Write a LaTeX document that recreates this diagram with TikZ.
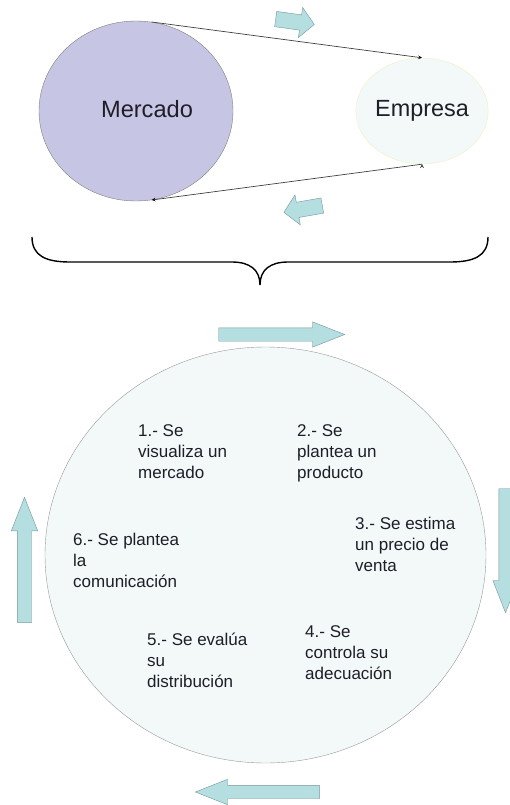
\documentclass[tikz,border=0pt]{standalone}
\usepackage{fontspec}
\setmainfont{Liberation Sans}
\usepackage{xcolor}
\usetikzlibrary{positioning,shapes.geometric,shapes.arrows}

\definecolor{lavanda}{RGB}{198,198,228}
\definecolor{celeste}{RGB}{243,249,249}
\definecolor{crema}{RGB}{240,240,190}
\definecolor{aguafill}{RGB}{180,222,224}
\definecolor{aguadraw}{RGB}{120,150,155}
\definecolor{tinta}{RGB}{30,30,40}

\begin{document}
\begin{tikzpicture}[%
    x=1pt,
    y=-1pt,
    >=stealth,
    bola/.style={%
      ellipse,
      inner sep=0pt,
      draw=gray
    },
    flecha/.style={%
      single arrow,
      anchor=tail,
      draw=aguadraw,
      fill=aguafill,
      inner xsep=0pt,
      inner ysep=6.5pt,
      single arrow head extend=6pt,
      single arrow tip angle=43
    },
    flechita/.style={%
      flecha,
      inner ysep=7.5pt,
      minimum height=39pt,
      single arrow head extend=7.5pt,
      single arrow tip angle=95
    },
    paso/.style={%
      anchor=north west,
      align=left,
      inner sep=0pt,
      text=tinta,
      font=\fontsize{17}{21}\selectfont
    }
  ]
    \useasboundingbox (0,0) rectangle (509,805);

    % arriba: mercado y empresa
    \node[bola, fill=lavanda, minimum width=194pt, minimum height=180pt] (mercado) at (136,111) {};
    \node[text=tinta, font=\fontsize{23.6}{24}\selectfont] (mercadotxt) at (147,109) {Mercado};
    \node[bola, draw=crema, fill=celeste, minimum width=112pt, minimum height=106pt,
          text=tinta, font=\fontsize{23.4}{24}\selectfont] (empresa) at (422,111) {Empresa};

    \path[->, draw=black!75, line width=0.7pt]
          (mercado.80) edge (empresa.north)
          (empresa.south) edge (mercado.-80);

    \node[flechita, rotate=-8]  (ida)    at (275.5,19) {};
    \node[flechita, rotate=190] (vuelta) at (322.5,205.5) {};

    % llave
    \draw[line width=1.4pt]
      (32,237) .. controls (32,256) and (46,262) .. (70,262) -- (232,262)
      .. controls (250,262) and (260,270) .. (260,285)
      .. controls (260,270) and (270,262) .. (288,262) -- (450,262)
      .. controls (474,262) and (488,256) .. (488,237);

    % abajo: el ciclo
    \node[bola, draw=gray!80, fill=celeste, minimum width=441pt, minimum height=416pt] (ciclo) at (265.5,555) {};

    \node[flecha, minimum height=126pt]                (fa) at (218.5,334.5) {};
    \node[flecha, minimum height=124pt, rotate=-90]    (fb) at (505.5,488.5) {};
    \node[flecha, minimum height=124pt, rotate=180]    (fc) at (319.5,792)   {};
    \node[flecha, minimum height=125pt, rotate=90,
          inner ysep=7pt] (fd) at (24.5,622.5) {};

    \node[paso] (p1) at (138,424) {1.- Se\\visualiza un\\mercado};
    \node[paso] (p2) at (297,424) {2.- Se\\plantea un\\producto};
    \node[paso] (p3) at (355,517) {3.- Se estima\\un precio de\\venta};
    \node[paso] (p4) at (305,625) {4.- Se\\controla su\\adecuación};
    \node[paso] (p5) at (147,633) {5.- Se evalúa\\su\\distribución};
    \node[paso] (p6) at (73,533)  {6.- Se plantea\\la\\comunicación};
  \end{tikzpicture}
\end{document}
